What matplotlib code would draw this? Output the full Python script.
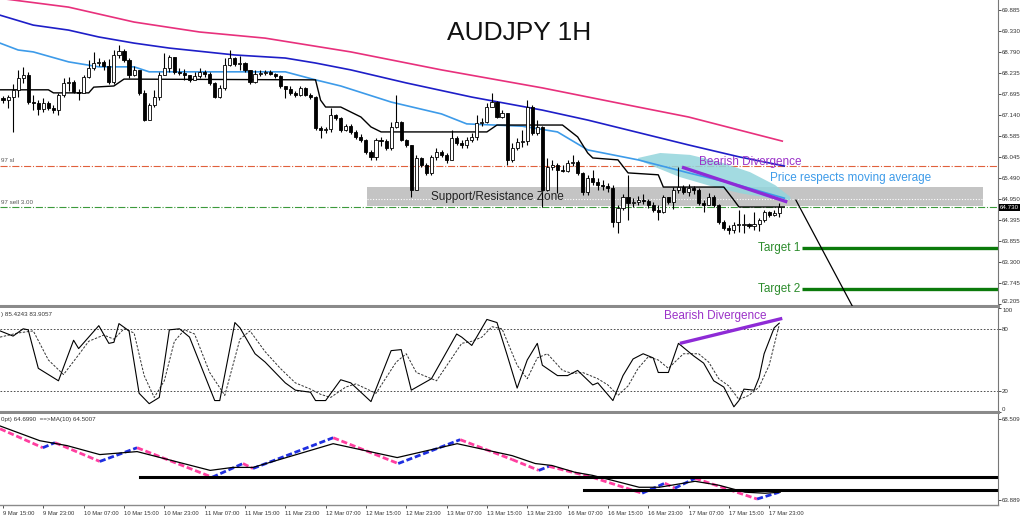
"""AUDJPY 1H chart: candles with moving averages, stochastic and a step line panel."""

import matplotlib
matplotlib.use("Agg")

import matplotlib.pyplot as plt
import matplotlib.transforms as mtrans
import numpy as np

plt.rcParams["font.family"] = ["Liberation Sans", "DejaVu Sans"]

# -- candles (1h bars, open = previous close) ------------------------------
first_open = 67.59
close = np.array([
    67.53, 67.61, 67.80, 68.11, 68.19, 67.48, 67.46, 67.30, 67.46, 67.33,
    67.27, 67.66, 67.98, 68.00, 67.74, 67.72, 68.13, 68.37, 68.50, 68.53,
    68.42, 68.00, 68.71, 68.81, 68.58, 68.19, 68.32, 67.72, 67.01, 67.40,
    67.61, 68.19, 68.37, 68.66, 68.27, 68.24, 68.19, 68.06, 68.16, 68.27,
    68.21, 67.98, 67.61, 67.85, 68.45, 68.63, 68.47, 68.50, 68.32, 68.00,
    68.21, 68.24, 68.27, 68.21, 68.16, 67.90, 67.82, 67.72, 67.66, 67.85,
    67.66, 67.61, 66.80, 66.75, 66.78, 67.14, 67.06, 66.75, 66.85, 66.70,
    66.57, 66.49, 66.18, 66.05, 66.49, 66.46, 66.28, 66.83, 66.96, 66.49,
    66.36, 65.18, 66.02, 65.84, 65.63, 66.05, 66.18, 66.10, 65.97, 66.54,
    66.41, 66.36, 66.49, 66.57, 66.93, 66.96, 67.35, 67.48, 67.09, 67.19,
    65.97, 66.28, 66.44, 66.47, 67.35, 66.67, 66.83, 65.18, 65.78, 65.84,
    65.71, 65.69, 65.89, 65.91, 65.63, 65.13, 65.50, 65.39, 65.31, 65.29,
    65.24, 64.35, 64.71, 65.00, 64.84, 64.87, 64.92, 64.90, 64.79, 64.66,
    64.61, 65.00, 64.87, 65.18, 65.26, 65.13, 65.24, 65.18, 64.84, 64.79,
    65.00, 64.79, 64.35, 64.19, 64.14, 64.27, 64.27, 64.30, 64.24, 64.30,
    64.40, 64.61, 64.53, 64.58, 64.73])
high = np.array([
    67.64, 67.66, 67.95, 68.32, 68.40, 68.27, 67.66, 67.53, 67.59, 67.51,
    67.40, 67.72, 68.11, 68.13, 68.06, 67.82, 68.19, 68.58, 68.79, 68.63,
    68.58, 68.61, 68.84, 68.97, 68.86, 68.63, 68.42, 68.32, 67.80, 67.46,
    67.80, 68.27, 68.76, 68.71, 68.66, 68.37, 68.34, 68.19, 68.27, 68.37,
    68.32, 68.27, 68.00, 67.93, 68.63, 68.84, 68.66, 68.68, 68.53, 68.32,
    68.32, 68.32, 68.32, 68.32, 68.24, 68.19, 67.90, 67.90, 67.77, 67.90,
    67.87, 67.72, 67.64, 66.85, 66.83, 67.33, 67.17, 67.09, 66.91, 66.91,
    66.75, 66.65, 66.52, 66.23, 66.54, 66.57, 66.52, 66.96, 67.66, 66.99,
    66.52, 66.36, 66.10, 66.05, 65.89, 66.10, 66.28, 66.23, 66.15, 66.75,
    66.59, 66.49, 66.57, 66.67, 67.14, 67.06, 67.46, 67.72, 67.51, 67.27,
    67.19, 66.41, 66.54, 66.75, 67.53, 67.40, 67.01, 66.85, 66.02, 65.97,
    65.89, 65.84, 65.97, 66.10, 65.97, 65.65, 65.58, 65.71, 65.50, 65.44,
    65.37, 65.31, 64.79, 65.08, 65.58, 64.97, 65.03, 65.08, 64.95, 64.87,
    64.79, 65.05, 65.00, 65.26, 65.78, 65.31, 65.34, 65.29, 65.24, 64.92,
    65.10, 65.05, 64.82, 64.40, 64.27, 64.35, 64.66, 64.56, 64.32, 64.61,
    64.45, 64.66, 64.63, 64.66, 64.84])
low = np.array([
    67.46, 67.33, 66.70, 67.61, 67.98, 67.43, 67.27, 67.14, 67.22, 67.27,
    67.19, 67.14, 67.61, 67.77, 67.72, 67.53, 67.72, 68.11, 68.32, 68.42,
    68.32, 67.95, 67.95, 68.63, 68.53, 68.11, 68.16, 67.66, 66.99, 67.01,
    67.35, 67.53, 68.19, 68.27, 68.21, 68.19, 68.06, 68.00, 68.06, 68.11,
    68.13, 67.93, 67.59, 67.59, 67.80, 68.42, 68.42, 68.32, 68.27, 67.95,
    67.98, 68.16, 68.19, 68.19, 68.11, 67.85, 67.59, 67.66, 67.61, 67.64,
    67.64, 67.56, 66.75, 66.54, 66.67, 66.70, 67.01, 66.70, 66.72, 66.65,
    66.52, 66.44, 66.12, 65.97, 65.97, 66.33, 66.23, 66.23, 66.80, 66.46,
    66.31, 65.00, 65.18, 65.78, 65.58, 65.58, 65.97, 66.05, 65.89, 65.97,
    66.36, 66.28, 66.28, 66.44, 66.49, 66.85, 66.93, 67.35, 67.06, 67.06,
    65.84, 65.91, 66.23, 66.31, 66.36, 66.62, 66.62, 64.74, 65.15, 65.71,
    65.11, 65.65, 65.65, 65.81, 65.58, 65.05, 65.05, 65.31, 65.18, 65.18,
    65.13, 64.22, 64.07, 64.66, 64.40, 64.74, 64.79, 64.82, 64.71, 64.61,
    64.40, 64.58, 64.82, 64.69, 65.11, 65.08, 65.03, 65.08, 64.79, 64.61,
    64.79, 64.74, 64.30, 64.14, 64.04, 64.07, 64.09, 64.07, 64.19, 64.14,
    64.12, 64.35, 64.48, 64.50, 64.48])

# -- moving averages (read at sample bars) ---------------------------------
pink_bar = [-0.6, 13, 26, 39, 52, 69, 87, 107, 126, 136, 154.6]
pink_val = [70.19, 69.96, 69.57, 69.31, 69.15, 68.79, 68.32, 67.85, 67.35, 67.09, 66.46]
blue_bar = [-0.6, 6, 13, 19, 26, 33, 46, 56, 62, 69, 80, 93, 107, 116, 136, 146, 155]
blue_val = [69.75, 69.49, 69.36, 69.18, 69.02, 68.89, 68.71, 68.63, 68.50, 68.32,
            67.98, 67.61, 67.27, 67.01, 66.36, 66.05, 65.81]
sky_bar = [-0.6, 3, 6, 13, 19, 26, 29, 36, 46, 56, 62, 67, 77, 87, 92, 103, 110,
           116, 126, 136, 146, 155]
sky_val = [69.02, 68.84, 68.79, 68.53, 68.40, 68.40, 68.27, 68.27, 68.27, 68.27, 68.06,
           67.90, 67.48, 67.17, 66.91, 66.85, 66.70, 66.23, 65.97, 65.63, 65.31, 64.97]
step_bar = [-0.6, 9, 10, 17, 18, 22, 24, 62, 63, 64, 67, 71, 73, 75, 96, 98, 111,
            114, 116, 117, 122, 124, 130, 131, 143, 145, 146, 155]
step_val = [67.80, 67.80, 67.72, 67.72, 67.87, 67.90, 68.08, 68.06, 67.53, 67.35,
            67.35, 67.09, 66.83, 66.70, 66.70, 66.88, 66.88, 66.57, 66.15, 66.02,
            65.97, 65.63, 65.58, 65.26, 65.26, 64.92, 64.74, 64.74]

price_ticks = [69.885, 69.330, 68.790, 68.235, 67.695, 67.140, 66.585, 66.045,
               65.490, 64.950, 64.395, 63.855, 63.300, 62.745, 62.205]
last_price = 64.73

# -- trade annotations -----------------------------------------------------
zone_bars = (72.2, 194.4)
zone_prices = (64.77, 65.26)
zone_mid = 64.95
sl_level = 65.81
entry_level = 64.73
target_levels = [63.68, 62.59]
target_names = ["Target 1", "Target 2"]
target_start = 158.5
proj_bar = [157.3, 168.5]
proj_price = [64.92, 62.15]
div_bar = [134.7, 155.6]
div_price = [65.78, 64.87]
lens_bar = [126.0, 130.4, 136.3, 142.3, 148.2, 153.2, 156.2,
            156.2, 152.2, 146.2, 140.3, 134.3, 129.4, 126.0]
lens_price = [66.02, 66.15, 66.10, 65.91, 65.65, 65.31, 65.00,
              64.92, 64.97, 65.10, 65.29, 65.52, 65.78, 65.97]

# -- stochastic ------------------------------------------------------------
k_bar = [-0.6, 2, 4, 5, 7, 11, 14, 15, 19, 21, 22, 23, 25, 27, 29, 31, 33, 35, 37,
         42, 43, 46, 47, 50, 52, 56, 58, 61, 62, 64, 67, 69, 73, 77, 79, 81, 85,
         90, 91, 93, 96, 98, 100, 102, 104, 106, 107, 110, 112, 114, 117, 118,
         121, 123, 125, 127, 129, 130, 132, 134, 137, 139, 141, 143, 145, 146,
         147, 149, 150, 151, 153, 154]
k_val = [78, 73, 80, 79, 42, 30, 69, 61, 83, 66, 67, 85, 78, 18, 8, 14, 79, 80, 72,
         11, 11, 86, 81, 56, 48, 28, 21, 19, 11, 11, 31, 28, 10, 59, 60, 21, 32,
         75, 72, 64, 89, 86, 55, 23, 50, 66, 45, 35, 35, 40, 26, 28,
         11, 35, 51, 56, 52, 38, 38, 66, 54, 47, 30, 24, 5, 11,
         22, 21, 33, 56, 81, 85.4]
d_bar = [-0.6, 3, 6, 9, 12, 15, 17, 20, 22, 24, 26, 28, 30, 32, 34, 36, 38, 41, 44,
         47, 49, 52, 55, 58, 61, 63, 65, 68, 70, 74, 78, 80, 82, 86, 91, 93, 95,
         97, 99, 102, 104, 106, 108, 111, 113, 115, 118, 120, 122, 124, 126, 128,
         130, 132, 135, 138, 140, 142, 144, 146, 148, 150, 152, 154]
d_val = [72, 76, 78, 50, 36, 55, 68, 74, 70, 80, 76, 35, 14, 30, 68, 79, 75, 38, 16,
         70, 78, 58, 42, 28, 22, 17, 14, 24, 27, 18, 48, 56, 38, 30, 66, 68, 72,
         82, 80, 45, 32, 52, 56, 40, 37, 38, 32, 26, 16, 25, 42, 53,
         50, 42, 56, 56, 48, 32, 25, 12, 16, 24, 45, 83.9]
stoch_div_bar = [134.3, 154.6]
stoch_div_val = [66, 90]

# -- step line panel -------------------------------------------------------
trail_bar = [-0.6, 7.9, 10.3, 19.2, 26.6, 41.5, 47.6, 49.6, 65.5, 78.4, 90.7,
             101.0, 106.3, 108.3, 116.9, 126.8, 131.3, 133.3, 137.3, 149.6, 154.0]
trail_val = [67.95, 66.87, 67.16, 66.09, 66.87, 65.19, 65.97, 65.69, 67.44, 65.97,
             67.33, 66.20, 65.58, 65.81, 65.19, 64.28, 64.85, 64.57, 65.13, 63.95, 64.34]
ma10_bar = [-0.6, 7.3, 12.7, 19.2, 26.6, 41.1, 45.6, 49.6, 65.5, 78.2, 90.1, 101.0,
            105.6, 108.9, 113.5, 116.9, 120.8, 126.2, 130.2, 137.3, 142.1, 147.2,
            151.2, 154.2]
ma10_val = [68.11, 67.27, 66.99, 66.48, 66.65, 65.58, 65.75, 65.75, 67.10, 66.31,
            67.10, 66.42, 65.97, 65.86, 65.47, 65.30, 65.02, 64.62, 64.62, 64.96,
            64.73, 64.34, 64.28, 64.34]
hline_levels = [65.19, 64.45]
hline_starts = [27.2, 115.3]

time_bars = list(range(0, 153, 8))
time_labels = ["9 Mar 15:00", "9 Mar 23:00", "10 Mar 07:00", "10 Mar 15:00",
               "10 Mar 23:00", "11 Mar 07:00", "11 Mar 15:00", "11 Mar 23:00",
               "12 Mar 07:00", "12 Mar 15:00", "12 Mar 23:00", "13 Mar 07:00",
               "13 Mar 15:00", "13 Mar 23:00", "16 Mar 07:00", "16 Mar 15:00",
               "16 Mar 23:00", "17 Mar 07:00", "17 Mar 15:00", "17 Mar 23:00"]

W, H = 1024, 518


def box(x0, y0, x1, y1):
    """Pixel box (from top-left) -> figure rect."""
    return [x0 / W, 1 - y1 / H, (x1 - x0) / W, (y1 - y0) / H]


fig = plt.figure(figsize=(W / 100, H / 100), dpi=100)
fig.patch.set_facecolor("white")
ax = fig.add_axes(box(0, 0, 998, 306))
ax2 = fig.add_axes(box(0, 308, 998, 412))
ax3 = fig.add_axes(box(0, 414, 998, 505))

XMIN, XMAX = -0.6, 197.4
for a in (ax, ax2, ax3):
    a.set_xlim(XMIN, XMAX)
    a.yaxis.tick_right()
    a.tick_params(axis="y", length=2, width=0.6, labelsize=4.4, colors="#333333", pad=1)
    a.spines["left"].set_visible(False)
    a.spines["top"].set_visible(False)
    a.spines["right"].set_color("#777777")
    a.spines["right"].set_linewidth(0.8)
    a.spines["bottom"].set_color("#8a8a8a")
    a.spines["bottom"].set_linewidth(2.2)
ax3.spines["bottom"].set_linewidth(1.0)
for a in (ax, ax2):
    a.set_xticks([])

# -- Panel 1: price --------------------------------------------------------
ax.set_ylim(62.153, 70.146)
ax.set_yticks(price_ticks)
ax.set_yticklabels([f"{v:.3f}" for v in price_ticks])
ax.get_yticklabels()[-1].set_va("bottom")

ax.fill_between(zone_bars, zone_prices[0], zone_prices[1], color="#c4c4c4", lw=0, zorder=1)
ax.plot(zone_bars, [zone_mid, zone_mid], color="white", lw=0.8, ls=(0, (1, 1.5)), zorder=1.5)
ax.text(84.9, 65.0, "Support/Resistance Zone", fontsize=8.5, color="#222222",
        va="center", ha="left", zorder=6)

ax.axhline(sl_level, color="#e0603c", lw=0.8, ls="-.", zorder=1)
ax.axhline(entry_level, color="#3c9a3c", lw=0.8, ls="-.", zorder=1)
ax.text(XMIN + 0.2, sl_level + 0.07, "97 sl", fontsize=4.5, color="#555555", va="bottom")
ax.text(XMIN + 0.2, entry_level + 0.07, "97 sell 3.00", fontsize=4.5, color="#555555", va="bottom")

ax.fill(lens_bar, lens_price, color="#93d5dc", alpha=0.85, lw=0, zorder=1.8)

ax.plot(pink_bar, pink_val, color="#e8307c", lw=1.2, zorder=2)
ax.plot(blue_bar, blue_val, color="#1e1ec8", lw=1.2, zorder=2)
ax.plot(sky_bar, sky_val, color="#3d9be9", lw=1.2, zorder=2)
ax.plot(step_bar, step_val, color="black", lw=1.0, zorder=2.5)

n = len(close)
bars = np.arange(n)
opens = np.r_[first_open, close[:-1]]
up = close >= opens
body_lo = np.minimum(opens, close)
body_h = np.maximum(np.abs(close - opens), 0.012)
ax.vlines(bars, low, high, color="black", lw=0.8, zorder=3)
ax.bar(bars[up], body_h[up], bottom=body_lo[up], width=0.62, facecolor="white",
       edgecolor="black", linewidth=0.6, zorder=4)
ax.bar(bars[~up], body_h[~up], bottom=body_lo[~up], width=0.62, facecolor="black",
       edgecolor="black", linewidth=0.6, zorder=4)

ax.plot(div_bar, div_price, color="#8e2bd6", lw=2.4, solid_capstyle="butt", zorder=5)
ax.text(138.1, 65.91, "Bearish Divergence", fontsize=8.5, color="#9b32c8", va="center", zorder=6)
ax.text(152.2, 65.50, "Price respects moving average", fontsize=8.5, color="#3d9be9",
        va="center", zorder=6)
ax.plot(proj_bar, proj_price, color="black", lw=0.9, zorder=5)
for lvl, name in zip(target_levels, target_names):
    ax.plot([target_start, XMAX], [lvl, lvl], color="#0b7a0b", lw=2.4, solid_capstyle="butt")
    ax.text(target_start - 0.4, lvl, name, fontsize=8.5, color="#2c8c2c", ha="right", va="center")

tr = mtrans.blended_transform_factory(ax.transAxes, ax.transData)
ax.text(1.002, last_price, f"{last_price:.3f}", transform=tr, fontsize=4.4, color="white",
        va="center", ha="left", bbox=dict(facecolor="black", edgecolor="none", pad=0.8))

fig.text(0.507, 0.936, "AUDJPY 1H", ha="center", va="center", fontsize=19, color="#111111")

# -- Panel 2: stochastic ---------------------------------------------------
ax2.set_ylim(0, 100)
ax2.set_yticks([0, 20, 80, 100])
ax2.get_yticklabels()[0].set_va("bottom")
ax2.get_yticklabels()[-1].set_va("top")
for lvl in (20, 80):
    ax2.axhline(lvl, color="#333333", lw=0.6, ls=(0, (2, 2)))
ax2.plot(d_bar, d_val, color="#333333", lw=0.7, ls=(0, (2.5, 1.5)))
ax2.plot(k_bar, k_val, color="black", lw=0.8)
ax2.plot(stoch_div_bar, stoch_div_val, color="#8e2bd6", lw=2.4, solid_capstyle="butt")
ax2.text(131.2, 92, "Bearish Divergence", fontsize=8.5, color="#9b32c8", va="center")
ax2.text(0.001, 0.94, ") 85.4243 83.9057", transform=ax2.transAxes, fontsize=4.5,
         color="#333333", va="center")

# -- Panel 3: step line + MA -----------------------------------------------
ax3.set_ylim(63.61, 68.79)
ax3.set_yticks([68.509, 63.889])
ax3.set_yticklabels(["68.509", "63.889"])
for i in range(len(trail_bar) - 1):
    seg_col = "#ff3fa0" if trail_val[i + 1] < trail_val[i] else "#1f2fe0"
    ax3.plot(trail_bar[i:i + 2], trail_val[i:i + 2], color=seg_col, lw=2.0,
             ls=(0, (2.2, 1.0)), solid_capstyle="butt")
ax3.plot(ma10_bar, ma10_val, color="black", lw=0.9)
for lvl, start in zip(hline_levels, hline_starts):
    ax3.plot([start, XMAX], [lvl, lvl], color="black", lw=2.2)
ax3.text(0.001, 0.945, "0pt) 64.6990  ==>MA(10) 64.5007", transform=ax3.transAxes,
         fontsize=4.5, color="#333333", va="center")

ax3.set_xticks(time_bars)
ax3.set_xticklabels(time_labels, ha="left")
ax3.tick_params(axis="x", length=2.5, width=0.6, labelsize=4.2, colors="#333333", pad=1.5)

fig.savefig("out.png", dpi=100)
plt.close(fig)
